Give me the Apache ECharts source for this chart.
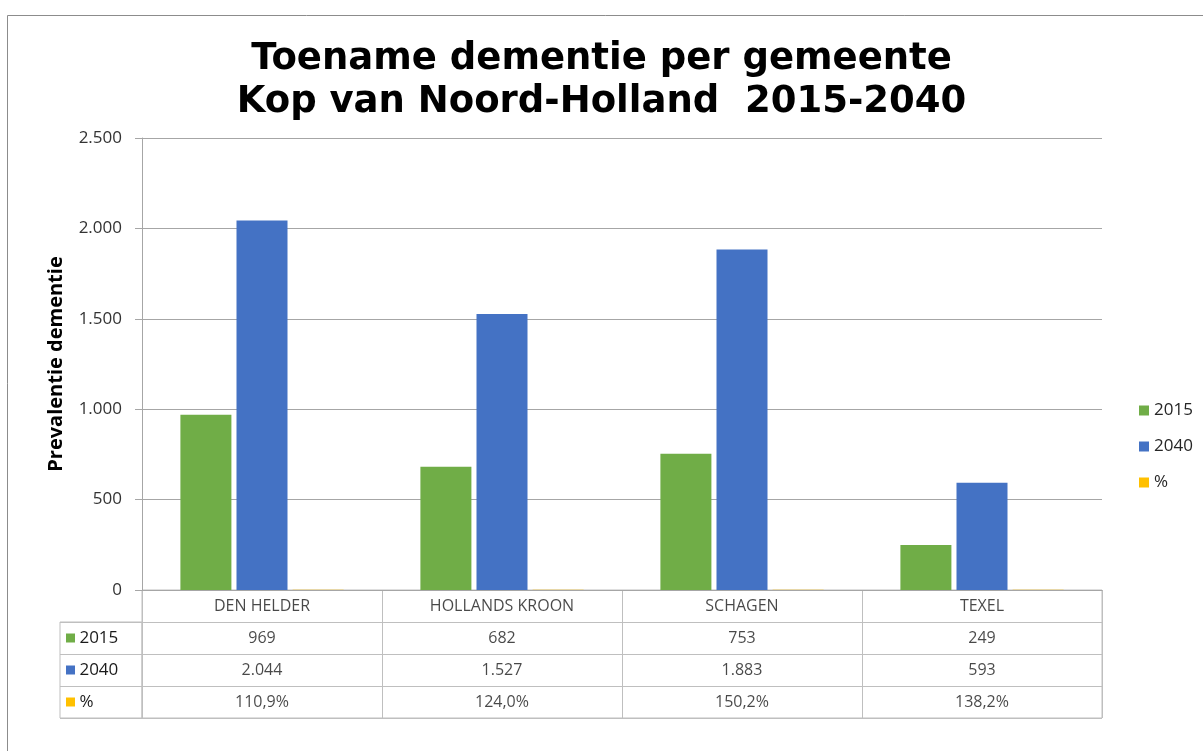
<!DOCTYPE html>
<html>
<head>
<meta charset="utf-8">
<script src="https://cdn.jsdelivr.net/npm/echarts@6/dist/echarts.min.js"></script>
<style>
html,body{margin:0;padding:0;background:#fff;}
#c{width:1203px;height:751px;}
</style>
</head>
<body>
<div id="c"></div>
<script>
const categories = ['DEN HELDER', 'HOLLANDS KROON', 'SCHAGEN', 'TEXEL'];
const values2015 = [969, 682, 753, 249];
const values2040 = [2044, 1527, 1883, 593];
const valuesPct = [1.109, 1.240, 1.502, 1.382];
const seriesNames = ['2015', '2040', '%'];
const seriesColors = ['#70AD47', '#4472C4', '#FFC000'];
const yTicks = { min: 0, max: 2500, interval: 500 };

function nl(v) { return String(Math.round(v)).replace(/\B(?=(\d{3})+(?!\d))/g, '.'); }
function pct(v) { return (v * 100).toFixed(1).replace('.', ',') + '%'; }

const FONT = '"Open Sans", "Noto Sans", sans-serif';
const gridLine = '#a6a6a6';
const tableLine = '#bfbfbf';

// table cells built from the data arrays
const rowsData = [values2015.map(nl), values2040.map(nl), valuesPct.map(pct)];
const tableCells = [];
categories.forEach((c, i) => tableCells.push({ value: [i, 0], txt: c }));
rowsData.forEach((row, r) => row.forEach((t, i) => tableCells.push({ value: [i, r + 1], txt: t })));

const chart = echarts.init(document.getElementById('c'), null, { renderer: 'canvas' });
chart.setOption({
  animation: false,
  backgroundColor: '#fff',
  graphic: [{
    type: 'rect', silent: true, z: -10,
    shape: { x: 7.5, y: 15.5, width: 1300, height: 800 },
    style: { fill: 'none', stroke: '#8c8c8c', lineWidth: 1 }
  }],
  title: {
    text: 'Toename dementie per gemeente\nKop van Noord-Holland  2015-2040',
    left: 'center', top: 33,
    textStyle: { fontFamily: '"DejaVu Sans", Verdana, sans-serif', fontWeight: 'bold', fontSize: 37, lineHeight: 43, color: '#000' }
  },
  legend: {
    orient: 'vertical', left: 1134, top: 397,
    icon: 'rect', itemWidth: 10, itemHeight: 10, itemGap: 19,
    data: seriesNames,
    textStyle: { fontFamily: FONT, fontSize: 17, color: '#262626' }
  },
  grid: [
    { left: 142, right: 101, top: 138, height: 452 },
    { left: 142, right: 101, top: 590, height: 128, show: true, borderColor: tableLine, borderWidth: 1 },
    { left: 60, width: 82, top: 622, height: 96, show: true, borderColor: tableLine, borderWidth: 1 }
  ],
  xAxis: [
    { type: 'category', gridIndex: 0, data: categories,
      axisLine: { show: true, lineStyle: { color: gridLine } }, axisTick: { show: false }, axisLabel: { show: false } },
    { type: 'category', gridIndex: 1, data: categories,
      axisLine: { show: false }, axisTick: { show: false }, axisLabel: { show: false },
      splitLine: { show: true, interval: 0, lineStyle: { color: tableLine } } },
    { type: 'value', gridIndex: 2, show: false, min: 0, max: 1 }
  ],
  yAxis: [
    { type: 'value', gridIndex: 0, min: yTicks.min, max: yTicks.max, interval: yTicks.interval,
      name: 'Prevalentie dementie', nameLocation: 'middle', nameGap: 76, nameRotate: 90,
      nameTextStyle: { fontFamily: FONT, fontWeight: 'bold', fontSize: 20, color: '#000' },
      axisLine: { show: true, lineStyle: { color: gridLine } },
      axisTick: { show: true, length: 7, lineStyle: { color: gridLine } },
      axisLabel: { formatter: nl, fontFamily: FONT, fontSize: 17, color: '#333', margin: 20 },
      splitLine: { show: true, lineStyle: { color: gridLine } } },
    { type: 'category', gridIndex: 1, inverse: true, data: ['', '2015', '2040', '%'],
      axisLine: { show: false }, axisTick: { show: false }, axisLabel: { show: false },
      splitLine: { show: true, interval: 0, lineStyle: { color: tableLine } } },
    { type: 'category', gridIndex: 2, inverse: true, data: seriesNames,
      axisLine: { show: false }, axisTick: { show: false },
      splitLine: { show: true, interval: 0, lineStyle: { color: tableLine } },
      axisLabel: { inside: true, margin: 6, interval: 0,
        formatter: (v, i) => '{s' + i + '|} ' + v,
        fontFamily: FONT, fontSize: 17, color: '#1a1a1a',
        rich: {
          s0: { backgroundColor: seriesColors[0], width: 9, height: 9 },
          s1: { backgroundColor: seriesColors[1], width: 9, height: 9 },
          s2: { backgroundColor: seriesColors[2], width: 9, height: 9 }
        } } }
  ],
  series: [
    { name: seriesNames[0], type: 'bar', xAxisIndex: 0, yAxisIndex: 0, data: values2015,
      itemStyle: { color: seriesColors[0] }, barGap: '10%', barCategoryGap: '32%' },
    { name: seriesNames[1], type: 'bar', xAxisIndex: 0, yAxisIndex: 0, data: values2040,
      itemStyle: { color: seriesColors[1] }, barGap: '10%', barCategoryGap: '32%' },
    { name: seriesNames[2], type: 'bar', xAxisIndex: 0, yAxisIndex: 0, data: valuesPct,
      itemStyle: { color: seriesColors[2] }, barGap: '10%', barCategoryGap: '32%' },
    { type: 'scatter', xAxisIndex: 1, yAxisIndex: 1, silent: true,
      symbolSize: 1, itemStyle: { color: 'rgba(0,0,0,0)' },
      data: tableCells,
      label: { show: true, position: 'inside', formatter: p => p.data.txt,
        fontFamily: FONT, fontSize: 16, color: '#1a1a1a' } }
  ]
});
</script>
</body>
</html>
